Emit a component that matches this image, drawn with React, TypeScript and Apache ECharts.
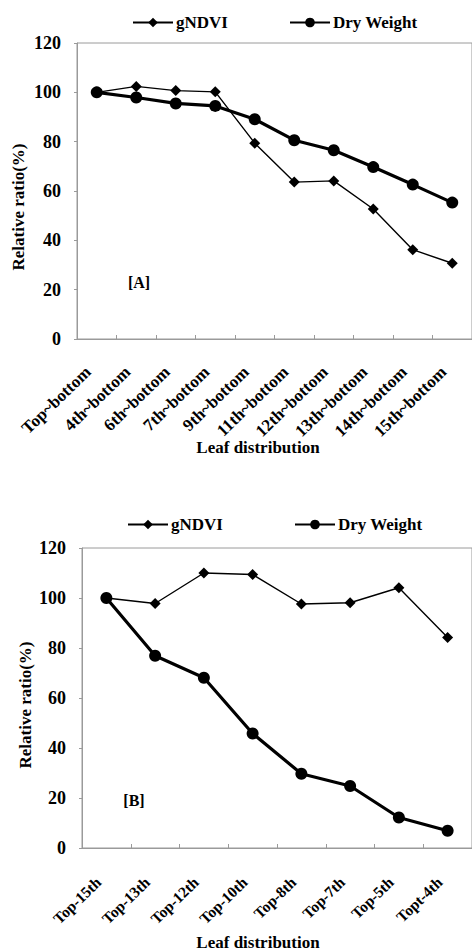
import React, { useEffect, useRef } from "react";
import * as echarts from "echarts";

// Panel A: leaves removed from the top down
const catsA = [
  "Top~bottom", "4th~bottom", "6th~bottom", "7th~bottom", "9th~bottom",
  "11th~bottom", "12th~bottom", "13th~bottom", "14th~bottom", "15th~bottom",
];
const gndviA = [100, 102.4, 100.7, 100.2, 79.4, 63.6, 64.1, 52.7, 36.2, 30.7];
const dryA = [100, 97.9, 95.5, 94.5, 89.1, 80.6, 76.5, 69.7, 62.6, 55.3];

// Panel B: leaves removed from the bottom up
const catsB = [
  "Top-15th", "Top-13th", "Top-12th", "Top-10th",
  "Top-8th", "Top-7th", "Top-5th", "Topt-4th",
];
const gndviB = [100, 97.8, 110.0, 109.4, 97.6, 98.1, 104.1, 84.2];
const dryB = [100, 76.9, 68.1, 45.8, 29.7, 24.8, 12.2, 6.9];

const yTicks = { min: 0, max: 120, interval: 20 };

const FONT = "'Liberation Serif', 'Times New Roman', serif";
const AXIS_GREY = "#9a9a9a";

function xAxis(gridIndex: number, data: string[], margin: number, fontSize: number, pad: number) {
  return {
    type: "category",
    gridIndex,
    data,
    boundaryGap: true,
    axisLine: { lineStyle: { color: AXIS_GREY, width: 1 } },
    axisTick: { show: true, inside: true, length: 4, lineStyle: { color: AXIS_GREY } },
    axisLabel: {
      interval: 0,
      rotate: 44,
      margin,
      padding: [0, pad, 0, 0],
      color: "#000",
      fontFamily: FONT,
      fontWeight: "bold",
      fontSize,
    },
    splitLine: { show: false },
  };
}

function yAxis(gridIndex: number) {
  return {
    type: "value",
    gridIndex,
    ...yTicks,
    axisLine: { show: true, lineStyle: { color: AXIS_GREY, width: 1 } },
    axisTick: { show: true, length: 3, lineStyle: { color: AXIS_GREY } },
    axisLabel: {
      color: "#000",
      fontFamily: FONT,
      fontWeight: "bold",
      fontSize: 18,
      margin: 16,
    },
    splitLine: { show: false },
  };
}

function gndviSeries(idx: number, data: number[]) {
  return {
    name: "gNDVI",
    type: "line",
    xAxisIndex: idx,
    yAxisIndex: idx,
    data,
    symbol: "diamond",
    symbolSize: 11,
    itemStyle: { color: "#000" },
    lineStyle: { color: "#000", width: 1.4 },
    z: 3,
  };
}

function drySeries(idx: number, data: number[]) {
  return {
    name: "Dry Weight",
    type: "line",
    xAxisIndex: idx,
    yAxisIndex: idx,
    data,
    symbol: "circle",
    symbolSize: 12,
    itemStyle: { color: "#000" },
    lineStyle: { color: "#000", width: 3.2 },
    z: 2,
  };
}

function legendItem(name: string, left: number, top: number) {
  return {
    data: [name],
    left,
    top,
    itemWidth: 40,
    itemHeight: 12,
    selectedMode: false,
    textStyle: {
      color: "#000",
      fontFamily: FONT,
      fontWeight: "bold",
      fontSize: 17,
      padding: [0, 0, 0, -2],
    },
  };
}

function titleText(text: string, x: number, y: number, size: number, rotation = 0) {
  return {
    type: "text",
    x,
    y,
    rotation,
    style: {
      text,
      fill: "#000",
      font: `bold ${size}px ${FONT}`,
      align: "center",
      verticalAlign: "middle",
    },
  };
}

export default function App() {
  const ref = useRef<HTMLDivElement>(null);

  useEffect(() => {
    document.body.style.margin = "0";
    const chart = echarts.init(ref.current!, null, { renderer: "svg" });
    chart.setOption({
      animation: false,
      backgroundColor: "#fff",
      legend: [
        legendItem("gNDVI", 127, 9),
        legendItem("Dry Weight", 284, 9),
        legendItem("gNDVI", 122, 511),
        legendItem("Dry Weight", 289, 511),
      ],
      grid: [
        { left: 77, top: 43, width: 398, height: 296, show: true, borderColor: AXIS_GREY, borderWidth: 1 },
        { left: 82, top: 548, width: 394, height: 300, show: true, borderColor: AXIS_GREY, borderWidth: 1 },
      ],
      xAxis: [xAxis(0, catsA, 22, 17, 12), xAxis(1, catsB, 24, 15.5, 11)],
      yAxis: [yAxis(0), yAxis(1)],
      series: [
        gndviSeries(0, gndviA),
        drySeries(0, dryA),
        gndviSeries(1, gndviB),
        drySeries(1, dryB),
      ],
      graphic: [
        titleText("Relative ratio(%)", 18, 207, 17, Math.PI / 2),
        titleText("[A]", 139, 282, 16),
        titleText("Leaf distribution", 258, 447, 17),
        titleText("Relative ratio(%)", 25, 705, 17, Math.PI / 2),
        titleText("[B]", 134, 800, 16),
        titleText("Leaf distribution", 258, 942, 17),
      ],
    });
    return () => chart.dispose();
  }, []);

  return (
    <div
      ref={ref}
      style={{ position: "absolute", left: 0, top: 0, width: 472, height: 951 }}
    />
  );
}
